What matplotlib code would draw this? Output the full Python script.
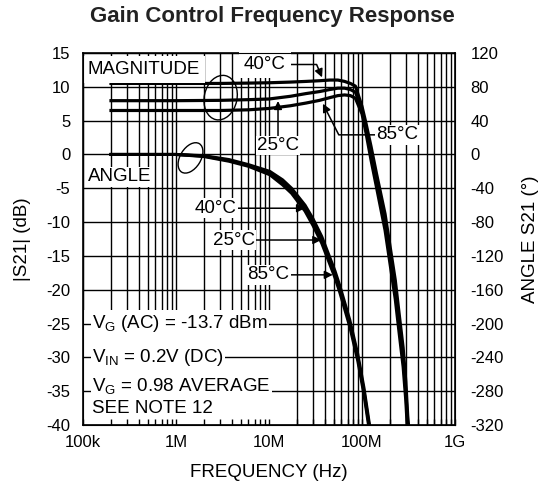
import matplotlib
matplotlib.use("Agg")
from matplotlib import pyplot as plt
from matplotlib.patches import Ellipse, Rectangle
from matplotlib.ticker import LogLocator, NullFormatter

plt.rcParams["font.family"] = ["Liberation Sans", "DejaVu Sans"]
plt.rcParams["mathtext.fontset"] = "custom"
plt.rcParams["mathtext.rm"] = "Liberation Sans"
plt.rcParams["mathtext.it"] = "Liberation Sans:italic"
plt.rcParams["mathtext.bf"] = "Liberation Sans:bold"
plt.rcParams["axes.unicode_minus"] = False

# |S21| magnitude (dB), left axis
mag_freq = [2e5, 1e6, 3e6, 6e6, 1e7, 1.7e7, 2.5e7, 3.5e7, 4.5e7, 5.5e7, 6.5e7, 7.5e7,
            8.5e7, 1.0e8, 1.1e8, 1.25e8, 1.43e8, 1.77e8, 2.28e8, 2.51e8, 2.77e8, 2.96e8,
            3.1e8, 3.3e8]
mag_40c = [10.5, 10.5, 10.5, 10.55, 10.6, 10.7, 10.8, 10.9, 11.0, 11.0, 10.8, 10.5,
           10.1, 7.1, 4.7, 1.2, -2.8, -8.8, -18.6, -23.6, -28.6, -33.6, -38.6, -43.0]
mag_25c = [7.95, 7.95, 8.0, 8.1, 8.2, 8.6, 9.0, 9.3, 9.6, 9.8, 9.8, 9.6,
           9.2, 6.6, 4.0, 0.2, -3.8, -10.0, -20.0, -25.0, -30.0, -35.0, -40.0, -44.5]
mag_85c = [6.5, 6.5, 6.5, 6.6, 6.8, 7.2, 7.6, 8.0, 8.4, 8.7, 8.8, 8.7,
           8.3, 6.0, 3.3, -0.8, -4.8, -11.2, -21.4, -26.4, -31.4, -36.4, -41.4, -46.0]

# S21 angle (degrees), right axis
ang_freq = [2e5, 1e6, 2e6, 3.7e6, 6e6, 1.02e7, 1.4e7, 1.75e7, 2.44e7, 2.97e7, 3.69e7,
            4.3e7, 5.13e7, 5.8e7, 7.4e7, 9.0e7, 1.05e8, 1.19e8, 1.3e8]
ang_40c = [0, 0, -1.5, -6, -12, -20, -30, -40, -60, -76, -97,
           -116, -138, -156, -196, -236, -276, -316, -342]
ang_25c = [0, 0, -2, -7, -13, -22, -33, -43, -64, -80, -101,
           -120, -142, -160, -200, -240, -280, -320, -346]
ang_85c = [0, 0, -2.5, -8, -14, -24, -36, -46, -67, -84, -105,
           -124, -146, -164, -204, -244, -284, -324, -350]

x_ticks = [1e5, 1e6, 1e7, 1e8, 1e9]
x_labels = ["100k", "1M", "10M", "100M", "1G"]
db_ticks = list(range(-40, 16, 5))
deg_ticks = list(range(-320, 121, 40))

fig = plt.figure(figsize=(5.44, 4.97), dpi=100)
ax = fig.add_axes([83 / 544, 72 / 497, 372 / 544, 372 / 497])
ax.set_xscale("log")
ax.set_xlim(1e5, 1e9)
ax.set_ylim(-40, 15)

# full log grid, vertical lines
for dec in [1e5, 1e6, 1e7, 1e8]:
    for m in range(1, 10):
        ax.axvline(m * dec, color="black", lw=1.0, zorder=0.8)
# blank patch behind the test conditions
ax.add_patch(Rectangle((1e5, -40), 1.6e7 - 1e5, 17, facecolor="white",
                       edgecolor="none", zorder=1))
ax.set_yticks(db_ticks)
ax.grid(axis="y", color="black", lw=1.0)

ax.set_xticks(x_ticks, x_labels)
ax.xaxis.set_minor_locator(LogLocator(base=10, subs=range(2, 10)))
ax.xaxis.set_minor_formatter(NullFormatter())
ax.tick_params(axis="x", which="both", direction="in", length=4, width=1,
               labelsize=12, pad=7)
ax.tick_params(axis="y", length=0, labelsize=12, pad=9)
for s in ax.spines.values():
    s.set_linewidth(1.2)

for vals in [mag_40c, mag_25c, mag_85c]:
    ax.plot(mag_freq, vals, color="black", lw=2.3, zorder=3)

ax2 = ax.twinx()
ax2.set_ylim(-320, 120)
ax2.set_yticks(deg_ticks)
ax2.tick_params(axis="y", length=0, labelsize=12, pad=11)
for vals in [ang_40c, ang_25c, ang_85c]:
    ax2.plot(ang_freq, vals, color="black", lw=2.2, zorder=3)

fs = 13.5
box = dict(facecolor="white", edgecolor="none", pad=1.0)
big_box = dict(facecolor="white", edgecolor="none", pad=3.5)
arrow = dict(arrowstyle="-|>", color="black", lw=1.1, mutation_scale=12,
             shrinkA=0, shrinkB=0)

ax.text(1.13e5, 12.6, "MAGNITUDE", ha="left", va="center", fontsize=fs,
        bbox=big_box, zorder=5)
ax.text(1.13e5, -3.3, "ANGLE", ha="left", va="center", fontsize=fs,
        bbox=box, zorder=5)

# magnitude temperature callouts
ax.annotate("40°C", xy=(3.72e7, 11.4), xytext=(9.06e6, 13.3), ha="center",
            va="center", fontsize=fs, bbox=big_box, zorder=5,
            arrowprops=dict(arrow, connectionstyle="angle,angleA=0,angleB=113,rad=0"))
ax.annotate("25°C", xy=(1.25e7, 7.9), xytext=(1.25e7, 1.3), ha="center",
            va="center", fontsize=fs, bbox=box, zorder=5, arrowprops=arrow)
ax.annotate("85°C", xy=(3.8e7, 7.5), xytext=(2.4e8, 2.9), ha="center",
            va="center", fontsize=fs, bbox=box, zorder=5,
            arrowprops=dict(arrow, connectionstyle="angle,angleA=0,angleB=117,rad=0"))

# angle temperature callouts
ax.annotate("40°C", xy=(2.44e7, -7.95), xytext=(4.5e6, -7.95), ha="right",
            va="center", fontsize=fs, bbox=box, zorder=5, arrowprops=arrow)
ax.annotate("25°C", xy=(3.65e7, -12.65), xytext=(7.0e6, -12.65), ha="right",
            va="center", fontsize=fs, bbox=box, zorder=5, arrowprops=arrow)
ax.annotate("85°C", xy=(4.85e7, -17.8), xytext=(1.66e7, -17.8), ha="right",
            va="center", fontsize=fs, bbox=box, zorder=5, arrowprops=arrow)

ax.add_patch(Ellipse((0.370, 0.880), 0.088, 0.121, angle=-12, fill=False,
                     lw=1.0, transform=ax.transAxes, zorder=4))
ax.add_patch(Ellipse((0.289, 0.718), 0.09, 0.055, angle=58, fill=False,
                     lw=1.0, transform=ax.transAxes, zorder=4))

# test conditions
ax.text(1.25e5, -25, r"V$_\mathrm{G}$ (AC) = -13.7 dBm", ha="left", va="center",
        fontsize=fs, bbox=box, zorder=5)
ax.text(1.25e5, -30, r"V$_\mathrm{IN}$ = 0.2V (DC)", ha="left", va="center",
        fontsize=fs, bbox=box, zorder=5)
ax.text(1.25e5, -34.2, r"V$_\mathrm{G}$ = 0.98 AVERAGE", ha="left", va="center",
        fontsize=fs, bbox=box, zorder=5)
ax.text(1.25e5, -37.6, "SEE NOTE 12", ha="left", va="center",
        fontsize=fs, bbox=box, zorder=5)

ax.set_xlabel("FREQUENCY (Hz)", fontsize=13.5, labelpad=10)
ax.set_ylabel("|S21| (dB)", fontsize=13.5, labelpad=11)
ax2.set_ylabel("ANGLE S21 (°)", fontsize=13.5, labelpad=13)
fig.text(0.5, 1 - 16.5 / 497, "Gain Control Frequency Response", ha="center",
         va="center", fontsize=16, fontweight="bold", color="#222222")

fig.savefig("out.png", dpi=100)
